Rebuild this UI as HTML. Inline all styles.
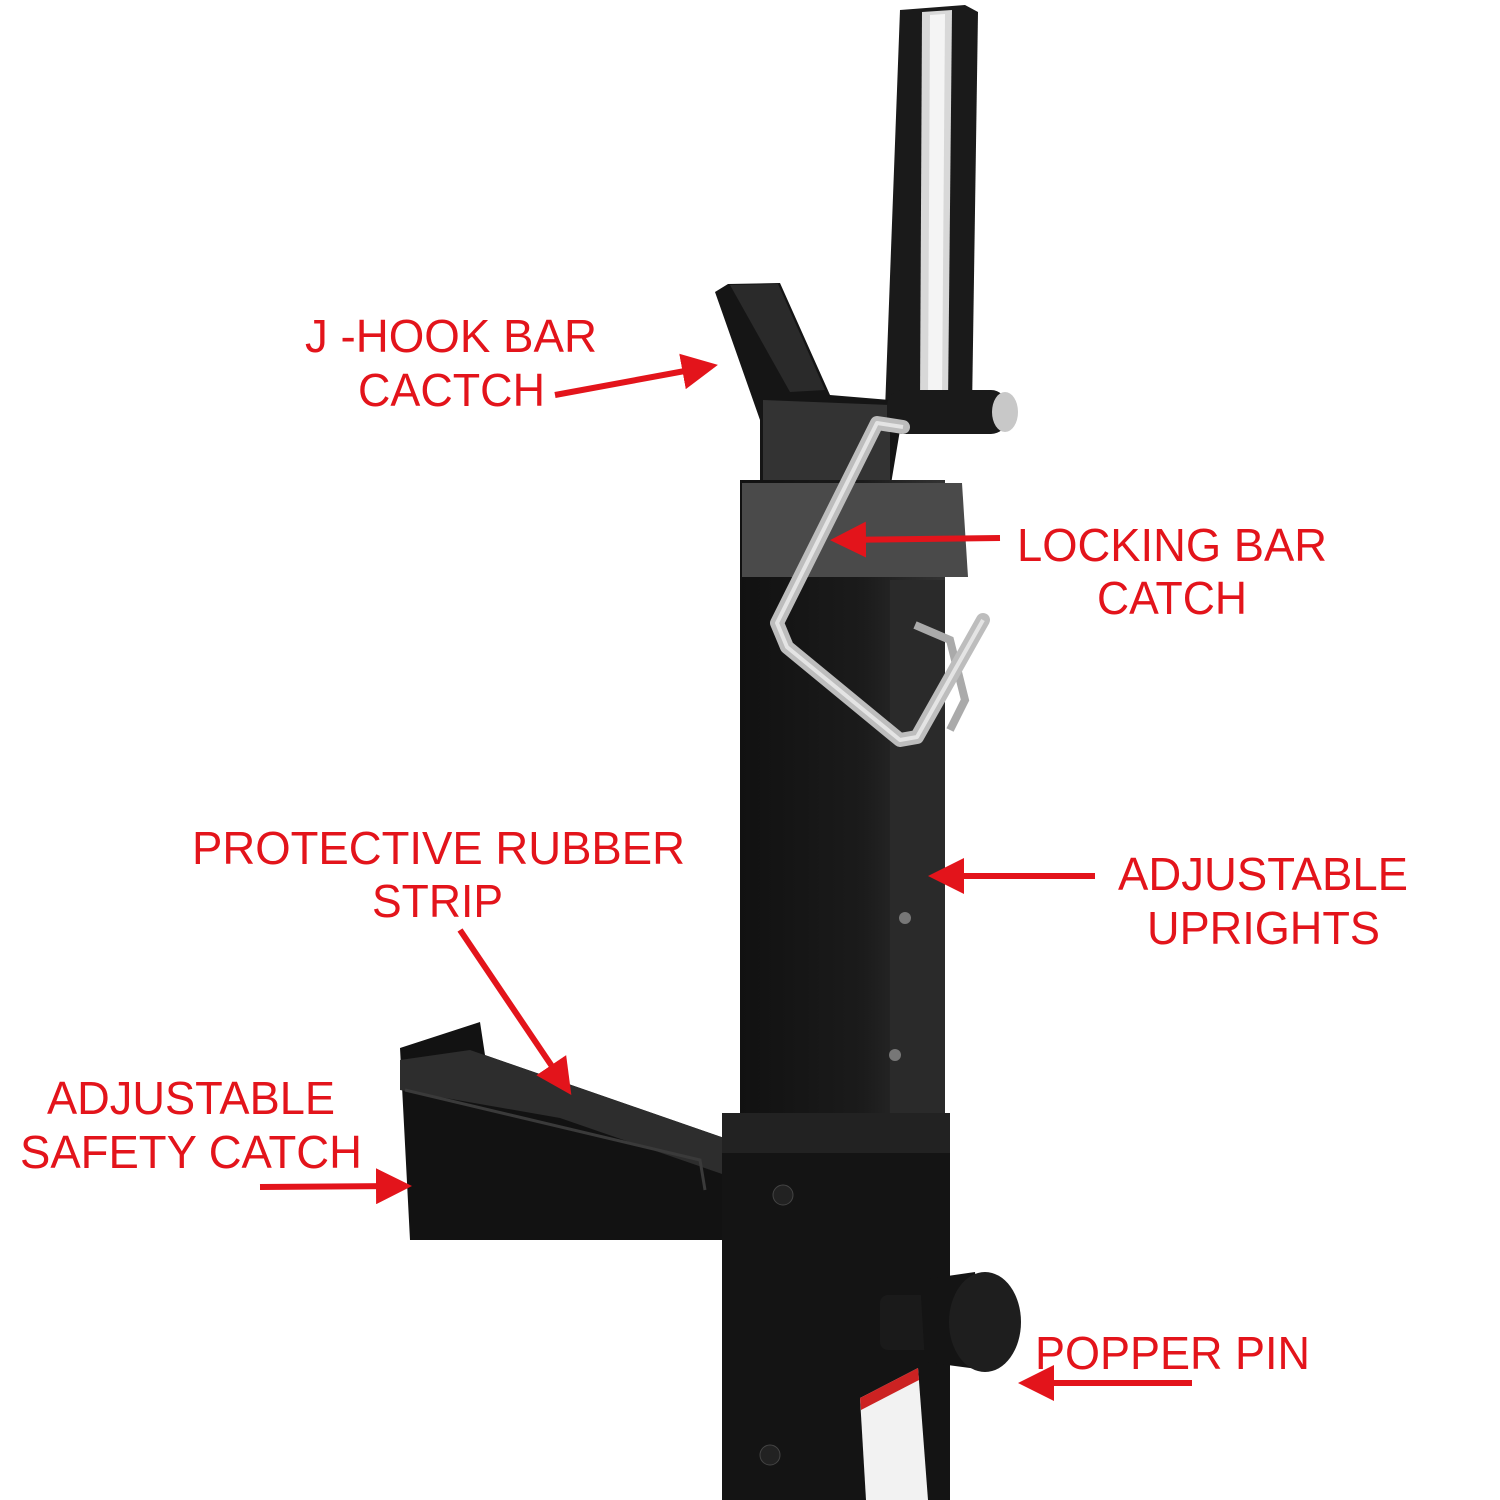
<!DOCTYPE html>
<html><head><meta charset="utf-8"><style>html,body{margin:0;padding:0;background:#fff}svg{display:block}</style></head>
<body>
<svg width="1500" height="1500" viewBox="0 0 1500 1500" xmlns="http://www.w3.org/2000/svg">
<defs>
<marker id="ah" markerWidth="6" markerHeight="6" refX="5" refY="3" orient="auto" markerUnits="strokeWidth">
<path d="M0,0 L6,3 L0,6 z" fill="#e3141b"/></marker>
<linearGradient id="tube" x1="0" x2="1"><stop offset="0" stop-color="#111"/><stop offset="0.6" stop-color="#1b1b1b"/><stop offset="1" stop-color="#333"/></linearGradient>
</defs>
<rect width="1500" height="1500" fill="#fff"/>
<!-- top vertical post -->
<path d="M900,10 L965,5 L978,12 L972,410 L885,410 Z" fill="#1a1a1a"/>
<path d="M922,12 L952,10 L948,405 L920,405 Z" fill="#d8d8d8"/>
<path d="M930,15 L945,14 L942,400 L928,400 Z" fill="#f4f4f4"/>
<!-- J hook -->
<path d="M715,292 L728,284 L780,283 L830,395 L890,400 L900,430 L890,490 L760,490 L760,420 Z" fill="#151515"/>
<path d="M730,285 L778,284 L825,390 L790,392 Z" fill="#2a2a2a"/>
<path d="M763,400 L890,405 L890,490 L763,490 Z" fill="#333"/>
<!-- locking bar horizontal -->
<rect x="887" y="390" width="120" height="44" rx="16" fill="#1a1a1a"/>
<ellipse cx="1005" cy="412" rx="13" ry="20" fill="#c8c8c8"/>
<!-- upright tube -->
<rect x="740" y="480" width="205" height="650" fill="url(#tube)"/>
<rect x="890" y="580" width="55" height="550" fill="#2a2a2a"/>
<!-- collar -->
<path d="M742,483 L962,483 L968,577 L742,577 Z" fill="#4a4a4a"/>
<!-- holes -->
<circle cx="905" cy="918" r="6" fill="#777"/>
<circle cx="895" cy="1055" r="6" fill="#777"/>
<!-- pin ring -->
<path d="M915,625 L950,640 L965,700 L950,730" fill="none" stroke="#aaa" stroke-width="8"/>
<!-- silver loop -->
<path d="M903,427 L877,423 L777,623 L787,647 L900,740 L917,737 L983,620" fill="none" stroke="#bdbdbd" stroke-width="14" stroke-linejoin="round" stroke-linecap="round"/>
<path d="M903,427 L877,423 L777,623 L787,647 L900,740 L917,737 L983,620" fill="none" stroke="#e4e4e4" stroke-width="4" stroke-linejoin="round"/>
<!-- safety catch arm -->
<path d="M400,1048 L480,1022 L485,1055 L730,1140 L730,1240 L410,1240 Z" fill="#121212"/>
<path d="M400,1060 L470,1050 L730,1140 L725,1175 L560,1118 L400,1090 Z" fill="#2d2d2d"/>
<path d="M405,1090 L700,1160 L705,1190" fill="none" stroke="#3a3a3a" stroke-width="3"/>
<!-- lower sleeve -->
<rect x="722" y="1113" width="228" height="387" fill="#141414"/>
<rect x="722" y="1113" width="228" height="40" fill="#222"/>
<circle cx="783" cy="1195" r="10" fill="#222" stroke="#444"/>
<circle cx="770" cy="1455" r="10" fill="#222" stroke="#444"/>
<!-- warning label -->
<path d="M860,1398 L918,1368 L928,1500 L866,1500 Z" fill="#f2f2f2"/>
<path d="M860,1398 L918,1368 L919,1380 L861,1410 Z" fill="#c22"/>
<!-- knob -->
<rect x="880" y="1295" width="60" height="55" rx="8" fill="#1a1a1a"/>
<path d="M920,1280 L975,1272 L985,1370 L925,1362 Z" fill="#141414"/>
<ellipse cx="985" cy="1322" rx="36" ry="50" fill="#1e1e1e"/>
<!-- labels -->
<g font-family="Liberation Sans, Arial, sans-serif" font-size="46" fill="#e3141b">
<text x="305" y="352" textLength="292" lengthAdjust="spacingAndGlyphs">J -HOOK BAR</text>
<text x="358" y="406" textLength="187" lengthAdjust="spacingAndGlyphs">CACTCH</text>
<text x="1017" y="561" textLength="310" lengthAdjust="spacingAndGlyphs">LOCKING BAR</text>
<text x="1097" y="614" textLength="150" lengthAdjust="spacingAndGlyphs">CATCH</text>
<text x="192" y="864" textLength="493" lengthAdjust="spacingAndGlyphs">PROTECTIVE RUBBER</text>
<text x="372" y="917" textLength="131" lengthAdjust="spacingAndGlyphs">STRIP</text>
<text x="1118" y="890" textLength="290" lengthAdjust="spacingAndGlyphs">ADJUSTABLE</text>
<text x="1147" y="944" textLength="233" lengthAdjust="spacingAndGlyphs">UPRIGHTS</text>
<text x="47" y="1114" textLength="288" lengthAdjust="spacingAndGlyphs">ADJUSTABLE</text>
<text x="20" y="1168" textLength="342" lengthAdjust="spacingAndGlyphs">SAFETY CATCH</text>
<text x="1035" y="1369" textLength="275" lengthAdjust="spacingAndGlyphs">POPPER PIN</text>
</g>
<g stroke="#e3141b" stroke-width="6" fill="none" marker-end="url(#ah)">
<line x1="555" y1="395" x2="712" y2="366"/>
<line x1="1000" y1="538" x2="836" y2="540"/>
<line x1="460" y1="930" x2="568" y2="1090"/>
<line x1="1095" y1="876" x2="934" y2="876"/>
<line x1="260" y1="1187" x2="406" y2="1186"/>
<line x1="1192" y1="1383" x2="1024" y2="1383"/>
</g>
</svg>
</body></html>
